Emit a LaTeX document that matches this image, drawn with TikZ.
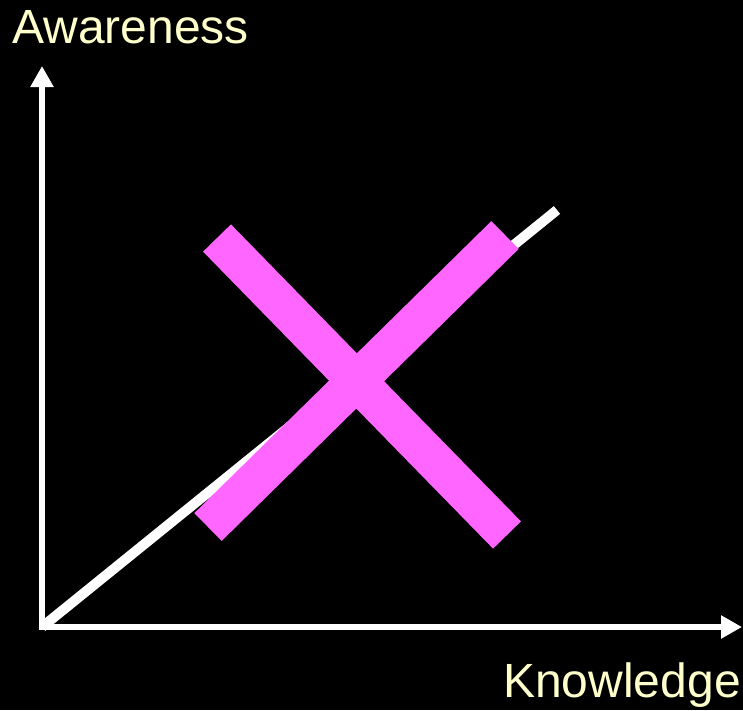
\documentclass[tikz,border=0pt]{standalone}
\usepackage{fontspec}
\setmainfont{Liberation Sans}
\usetikzlibrary{arrows.meta}
\definecolor{paleyellow}{HTML}{FFFFCC}
\definecolor{crossmagenta}{HTML}{FF66FF}
\tikzset{
  axis/.style={draw=white, line width=6.5pt, -{Triangle[length=21pt,width=22pt]}},
  trend/.style={draw=white, line width=10pt},
  crossbar/.style={draw=crossmagenta, line width=39pt},
  axislabel/.style={text=paleyellow, font=\fontsize{48}{57}\selectfont, inner sep=0pt}
}
\begin{document}
\begin{tikzpicture}[x=1pt, y=-1pt, >=stealth]
\fill[black] (0,0) rectangle (743,710);
\useasboundingbox (0,0) rectangle (743,710);
\coordinate (o) at (42,627);
\coordinate (ytop) at (42,66);
\coordinate (xend) at (742,627);
\coordinate (t) at (557,210);
\node[axislabel, anchor=base west] (aware) at (12,43) {Awareness};
\node[axislabel, anchor=base east] (know) at (741,697) {Knowledge};

\draw[axis] (o) -- (ytop);
\draw[axis] ([xshift=-3pt]o) -- (xend);
\draw[trend] (o) -- (t);

\coordinate (a1) at (217,238);
\coordinate (a2) at (507,535);
\coordinate (b1) at (208,527);
\coordinate (b2) at (505,235);
\draw[crossbar] (a1) -- (a2);
\draw[crossbar] (b1) -- (b2);
\end{tikzpicture}
\end{document}
